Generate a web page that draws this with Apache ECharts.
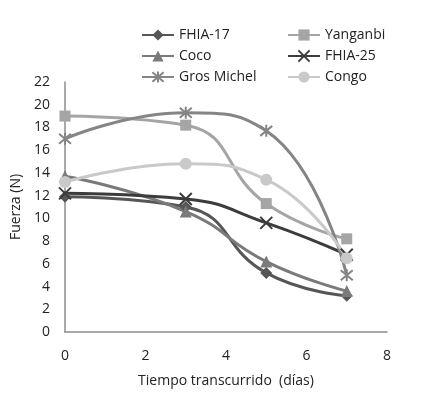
<!DOCTYPE html>
<html><head><meta charset="utf-8">
<script src="https://cdn.jsdelivr.net/npm/echarts@6/dist/echarts.min.js"></script>
<style>html,body{margin:0;padding:0;background:#fff}#c{width:424px;height:397px}</style>
</head><body><div id="c"></div>
<script>
const days = [0, 3, 5, 7];
const xTicks = [0, 2, 4, 6, 8];
const yTicks = [0, 2, 4, 6, 8, 10, 12, 14, 16, 18, 20, 22];
const fhia17 = [11.9, 11.0, 5.2, 3.2];
const yanganbi = [19.0, 18.2, 11.3, 8.2];
const coco = [13.7, 10.6, 6.2, 3.6];
const fhia25 = [12.2, 11.7, 9.6, 6.8];
const grosMichel = [17.0, 19.3, 17.7, 5.0];
const congo = [13.2, 14.8, 13.4, 6.5];

const xPath = 'path://M0,0 L10,10 M10,0 L0,10';
const starPath = 'path://M0,0 L10,10 M10,0 L0,10 M5,-1 L5,11';

function mk(name, data, color, symbol, size, strokeSym) {
  return {
    name, type: 'line', smooth: 0.5,
    data: days.map((d, i) => [d, data[i]]),
    symbol, symbolSize: size,
    lineStyle: { color, width: 3 },
    itemStyle: strokeSym ? { color: 'transparent', borderColor: color, borderWidth: 2 } : { color },
    color
  };
}
const series = [
  mk('FHIA-17', fhia17, '#565656', 'diamond', 12),
  mk('Yanganbi', yanganbi, '#a5a5a5', 'rect', 11),
  mk('Coco', coco, '#7a7a7a', 'triangle', 12),
  mk('FHIA-25', fhia25, '#3c3c3c', xPath, 12, true),
  mk('Gros Michel', grosMichel, '#858585', starPath, 12, true),
  mk('Congo', congo, '#c9c9c9', 'circle', 12)
];
const F = 'Open Sans';
const legTxt = { fontFamily: F, fontSize: 14, color: '#222' };
const chart = echarts.init(document.getElementById('c'));
chart.setOption({
  animation: false,
  legend: [
    { data: ['FHIA-17', 'Coco', 'Gros Michel'], orient: 'vertical', left: 136, top: 23, itemWidth: 32, itemHeight: 14, itemGap: 7, textStyle: legTxt },
    { data: ['Yanganbi', 'FHIA-25', 'Congo'], orient: 'vertical', left: 282, top: 23, itemWidth: 32, itemHeight: 14, itemGap: 7, textStyle: legTxt }
  ],
  grid: { left: 65, right: 37, top: 82, bottom: 65 },
  xAxis: {
    type: 'value', min: xTicks[0], max: xTicks[xTicks.length - 1], interval: 2,
    name: 'Tiempo transcurrido  (días)', nameLocation: 'middle', nameGap: 42,
    nameTextStyle: { fontFamily: F, fontSize: 14, color: '#222' },
    axisLine: { lineStyle: { color: '#8c8c8c', width: 1.5 } },
    axisTick: { show: false }, splitLine: { show: false },
    axisLabel: { fontFamily: F, fontSize: 14, color: '#222', margin: 17 }
  },
  yAxis: {
    type: 'value', min: yTicks[0], max: yTicks[yTicks.length - 1], interval: 2,
    name: 'Fuerza (N)', nameLocation: 'middle', nameGap: 30,
    nameTextStyle: { fontFamily: F, fontSize: 14, color: '#222' },
    axisLine: { show: true, lineStyle: { color: '#8c8c8c', width: 1.5 } },
    axisTick: { show: false }, splitLine: { show: false },
    axisLabel: { fontFamily: F, fontSize: 14, color: '#222', margin: 15 }
  },
  series
});
</script></body></html>
